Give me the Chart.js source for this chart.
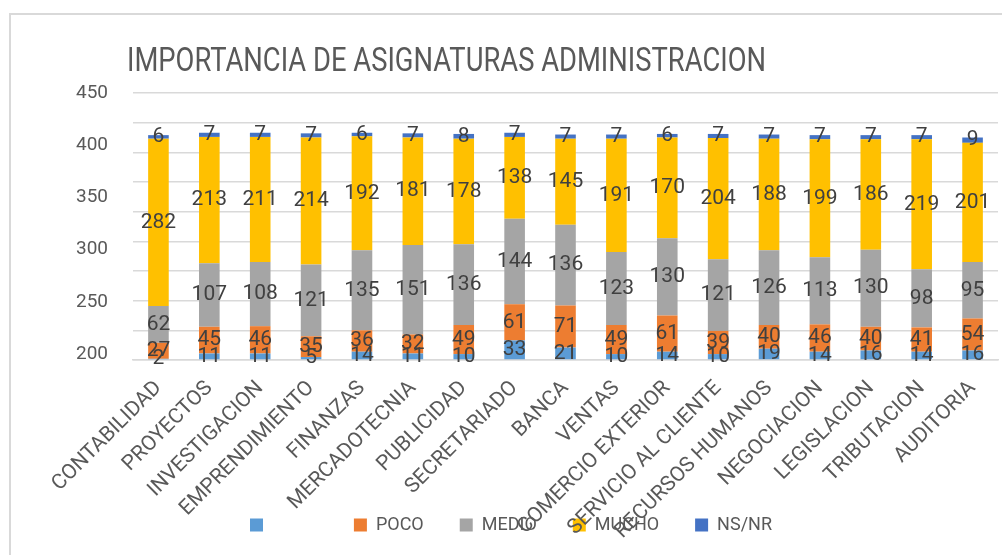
<!DOCTYPE html>
<html><head><meta charset="utf-8">
<script src="https://cdn.jsdelivr.net/npm/chart.js@4/dist/chart.umd.min.js"></script>
<style>html,body{margin:0;padding:0;background:#fff;overflow:hidden}</style>
</head><body>
<canvas id="c" width="1002" height="555"></canvas>
<script>
const titleText = 'IMPORTANCIA DE ASIGNATURAS ADMINISTRACION';
const categories = ['CONTABILIDAD','PROYECTOS','INVESTIGACION','EMPRENDIMIENTO','FINANZAS','MERCADOTECNIA','PUBLICIDAD','SECRETARIADO','BANCA','VENTAS','COMERCIO EXTERIOR','SERVICIO AL CLIENTE','RECURSOS HUMANOS','NEGOCIACION','LEGISLACION','TRIBUTACION','AUDITORIA'];
const nada  = [2,11,11,5,14,11,10,33,21,10,14,10,19,14,16,14,16];
const poco  = [27,45,46,35,36,32,49,61,71,49,61,39,40,46,40,41,54];
const medio = [62,107,108,121,135,151,136,144,136,123,130,121,126,113,130,98,95];
const mucho = [282,213,211,214,192,181,178,138,145,191,170,204,188,199,186,219,201];
const nsnr  = [6,7,7,7,6,7,8,7,7,7,6,7,7,7,7,7,9];
const seriesNames = ['\u2003\u2003\u2002','POCO','MEDIO','MUCHO','NS/NR'];
const seriesColors = ['#5B9BD5','#ED7D31','#A5A5A5','#FFC000','#4472C4'];
const yTickLabels = [200,250,300,350,400,450];

const framePlugin = {
  id: 'frame',
  beforeDraw(chart) {
    const ctx = chart.ctx;
    ctx.save();
    ctx.strokeStyle = '#D9D9D9';
    ctx.lineWidth = 2;
    ctx.beginPath();
    ctx.moveTo(10, chart.height);
    ctx.lineTo(10, 14);
    ctx.lineTo(chart.width, 14);
    ctx.stroke();
    ctx.restore();
  }
};

const titlePlugin = {
  id: 'leftTitle',
  afterDraw(chart) {
    const ctx = chart.ctx;
    ctx.save();
    ctx.font = '34px Roboto';
    const w = ctx.measureText(titleText).width;
    ctx.translate(chart.chartArea.left - 6, 71);
    ctx.scale(639 / w, 1);
    ctx.fillStyle = '#595959';
    ctx.textBaseline = 'alphabetic';
    ctx.textAlign = 'left';
    ctx.fillText(titleText, 0, 0);
    ctx.restore();
  }
};

const labelPlugin = {
  id: 'segLabels',
  afterDatasetsDraw(chart) {
    const ctx = chart.ctx;
    ctx.save();
    ctx.font = '21px Roboto';
    ctx.fillStyle = '#404040';
    ctx.textAlign = 'center';
    ctx.textBaseline = 'middle';
    chart.data.datasets.forEach((ds, di) => {
      const meta = chart.getDatasetMeta(di);
      meta.data.forEach((el, i) => {
        ctx.fillText(String(ds.data[i]), el.x, (el.y + el.base) / 2);
      });
    });
    ctx.restore();
  }
};

const seriesData = [nada, poco, medio, mucho, nsnr];

new Chart(document.getElementById('c'), {
  type: 'bar',
  data: {
    labels: categories,
    datasets: seriesData.map((d, i) => ({
      label: seriesNames[i],
      data: d,
      backgroundColor: seriesColors[i],
      borderWidth: 0,
      barPercentage: 0.405,
      categoryPercentage: 1,
      yAxisID: 'y'
    }))
  },
  options: {
    responsive: false,
    animation: false,
    devicePixelRatio: 1,
    layout: { padding: { top: 93, right: 4, left: 24, bottom: 11 } },
    plugins: {
      tooltip: { enabled: false },
      title: { display: false },
      legend: {
        position: 'bottom',
        labels: {
          boxWidth: 13, boxHeight: 13,
          color: '#595959',
          font: { family: 'Roboto', size: 18 },
          padding: 36
        }
      }
    },
    scales: {
      x: {
        stacked: true,
        grid: { display: false },
        border: { display: true, color: '#D9D9D9', width: 1.5 },
        ticks: {
          color: '#595959',
          font: { family: 'Roboto', size: 21 },
          maxRotation: 45, minRotation: 45,
          autoSkip: false, padding: 8
        },
        afterFit(s) { s.height = 120; s._computeLabelArea = () => undefined; }
      },
      y: {
        stacked: true,
        position: 'left',
        min: 0, max: 450,
        ticks: { display: false, stepSize: 50 },
        grid: { color: '#D9D9D9', lineWidth: 1.5, drawTicks: false },
        border: { display: false },
        afterFit(s) { s.width = 0; }
      },
      y2: {
        position: 'left',
        min: 194.3, max: 450,
        grid: { display: false, drawTicks: false },
        border: { display: false },
        ticks: { color: '#595959', font: { family: 'Roboto', size: 19 }, padding: 25 },
        afterBuildTicks(s) { s.ticks = yTickLabels.map(v => ({ value: v })); },
        afterFit(s) { s.width = 109; }
      }
    }
  },
  plugins: [framePlugin, titlePlugin, labelPlugin]
});
</script>
</body></html>
